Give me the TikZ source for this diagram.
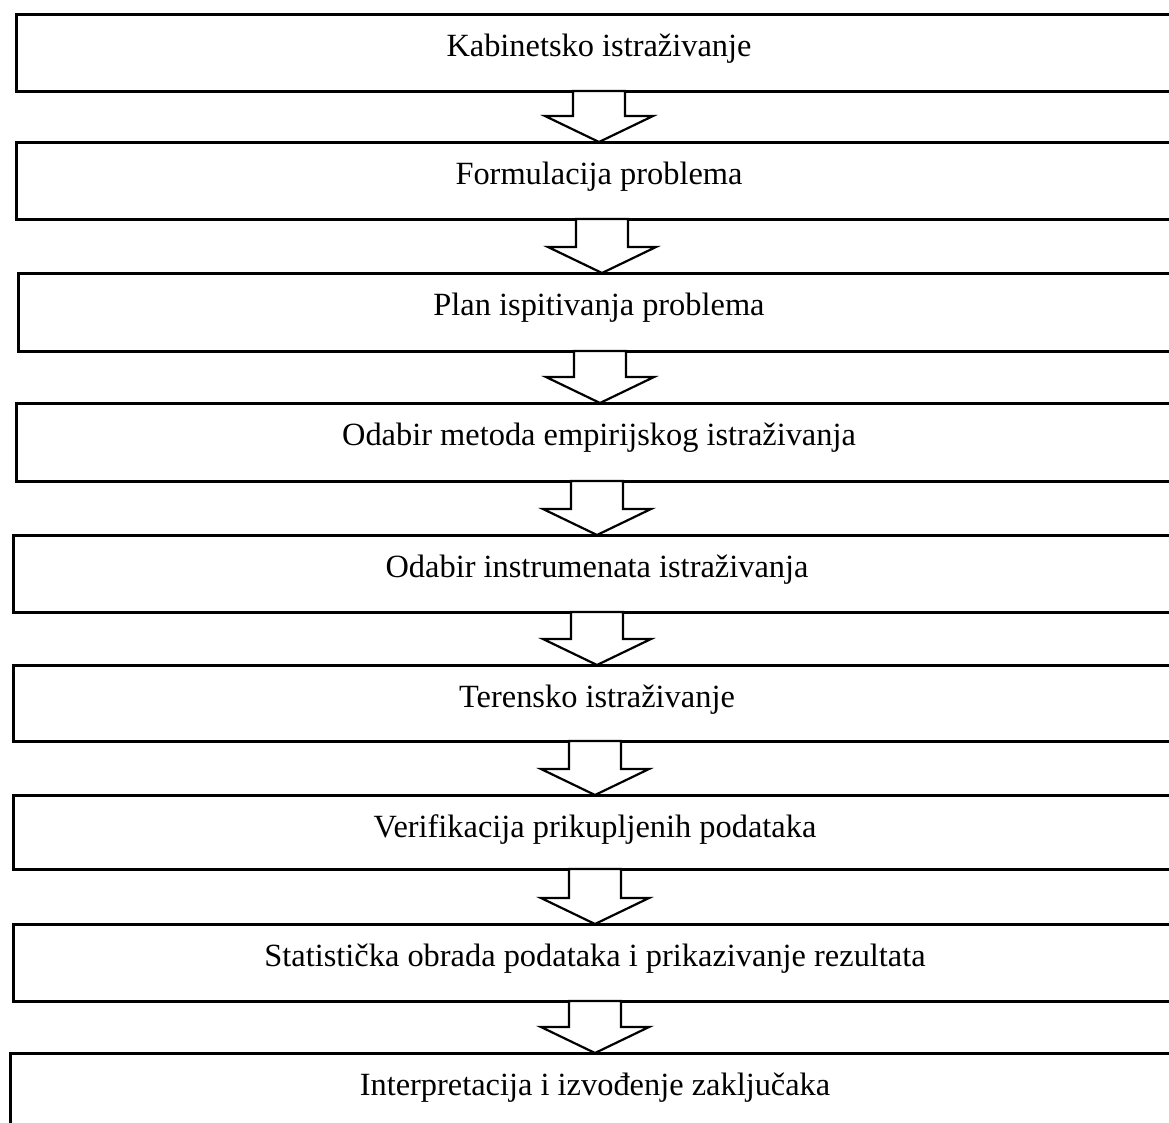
\documentclass[tikz,border=0pt]{standalone}
\usepackage{fontspec}
\setmainfont{Liberation Serif}
\usetikzlibrary{calc}
\begin{document}
\begin{tikzpicture}[x=1pt,y=-1pt,
  stepbox/.style={draw, line width=3pt, rectangle, outer sep=0pt, inner sep=0pt, anchor=north west},
  steptext/.style={anchor=base, font=\fontsize{32.4}{38}\selectfont, inner sep=0pt},
  flowarrow/.style={draw, line width=2.2pt, fill=white, line join=miter}]
\useasboundingbox (0,0) rectangle (1169,1122);
\clip (0,0) rectangle (1169,1122);

% process steps (boxes run past the right edge)
\node[stepbox, minimum width=1174pt, minimum height=77pt] (b1) at (16,14) {};
\node[stepbox, minimum width=1174pt, minimum height=77pt] (b2) at (16,142) {};
\node[stepbox, minimum width=1172pt, minimum height=78pt] (b3) at (18,273) {};
\node[stepbox, minimum width=1174pt, minimum height=78pt] (b4) at (16,403) {};
\node[stepbox, minimum width=1177pt, minimum height=77pt] (b5) at (13,535) {};
\node[stepbox, minimum width=1177pt, minimum height=76pt] (b6) at (13,665) {};
\node[stepbox, minimum width=1177pt, minimum height=74pt] (b7) at (13,795) {};
\node[stepbox, minimum width=1177pt, minimum height=77pt] (b8) at (13,924) {};
\node[stepbox, minimum width=1180pt, minimum height=90pt] (b9) at (10,1053) {};

% column positions of the arrows
\coordinate (x1) at (599,0);
\coordinate (x2) at (602,0);
\coordinate (x3) at (600,0);
\coordinate (x4) at (597,0);
\coordinate (x5) at (597,0);
\coordinate (x6) at (595,0);
\coordinate (x7) at (595,0);
\coordinate (x8) at (595,0);

% labels
\node[steptext] (t1) at ($(b1.north -| x1)+(0,42)$) {Kabinetsko istraživanje};
\node[steptext] (t2) at ($(b2.north -| x1)+(0,42)$) {Formulacija problema};
\node[steptext] (t3) at ($(b3.north -| x1)+(0,42)$) {Plan ispitivanja problema};
\node[steptext] (t4) at ($(b4.north -| x1)+(0,42)$) {Odabir metoda empirijskog istraživanja};
\node[steptext] (t5) at ($(b5.north -| x4)+(0,42)$) {Odabir instrumenata istraživanja};
\node[steptext] (t6) at ($(b6.north -| x4)+(0,42)$) {Terensko istraživanje};
\node[steptext] (t7) at ($(b7.north -| x6)+(0,42)$) {Verifikacija prikupljenih podataka};
\node[steptext] (t8) at ($(b8.north -| x6)+(0,42)$) {Statistička obrada podataka i prikazivanje rezultata};
\node[steptext] (t9) at ($(b9.north -| x8)+(0,42)$) {Interpretacija i izvođenje zaključaka};

% hollow block arrows between consecutive steps
\foreach \a/\b/\c in {b1/b2/x1, b2/b3/x2, b3/b4/x3, b4/b5/x4, b5/b6/x5, b6/b7/x6, b7/b8/x7, b8/b9/x8}{
  \draw[flowarrow]
    ($(\a.south -| \c)+(-26,0)$) -- ($(\a.south -| \c)+(26,0)$)
    -- ($(\b.north -| \c)+(26,-26)$) -- ($(\b.north -| \c)+(54,-26)$)
    -- (\b.north -| \c)
    -- ($(\b.north -| \c)+(-54,-26)$) -- ($(\b.north -| \c)+(-26,-26)$) -- cycle;
}
\end{tikzpicture}
\end{document}
